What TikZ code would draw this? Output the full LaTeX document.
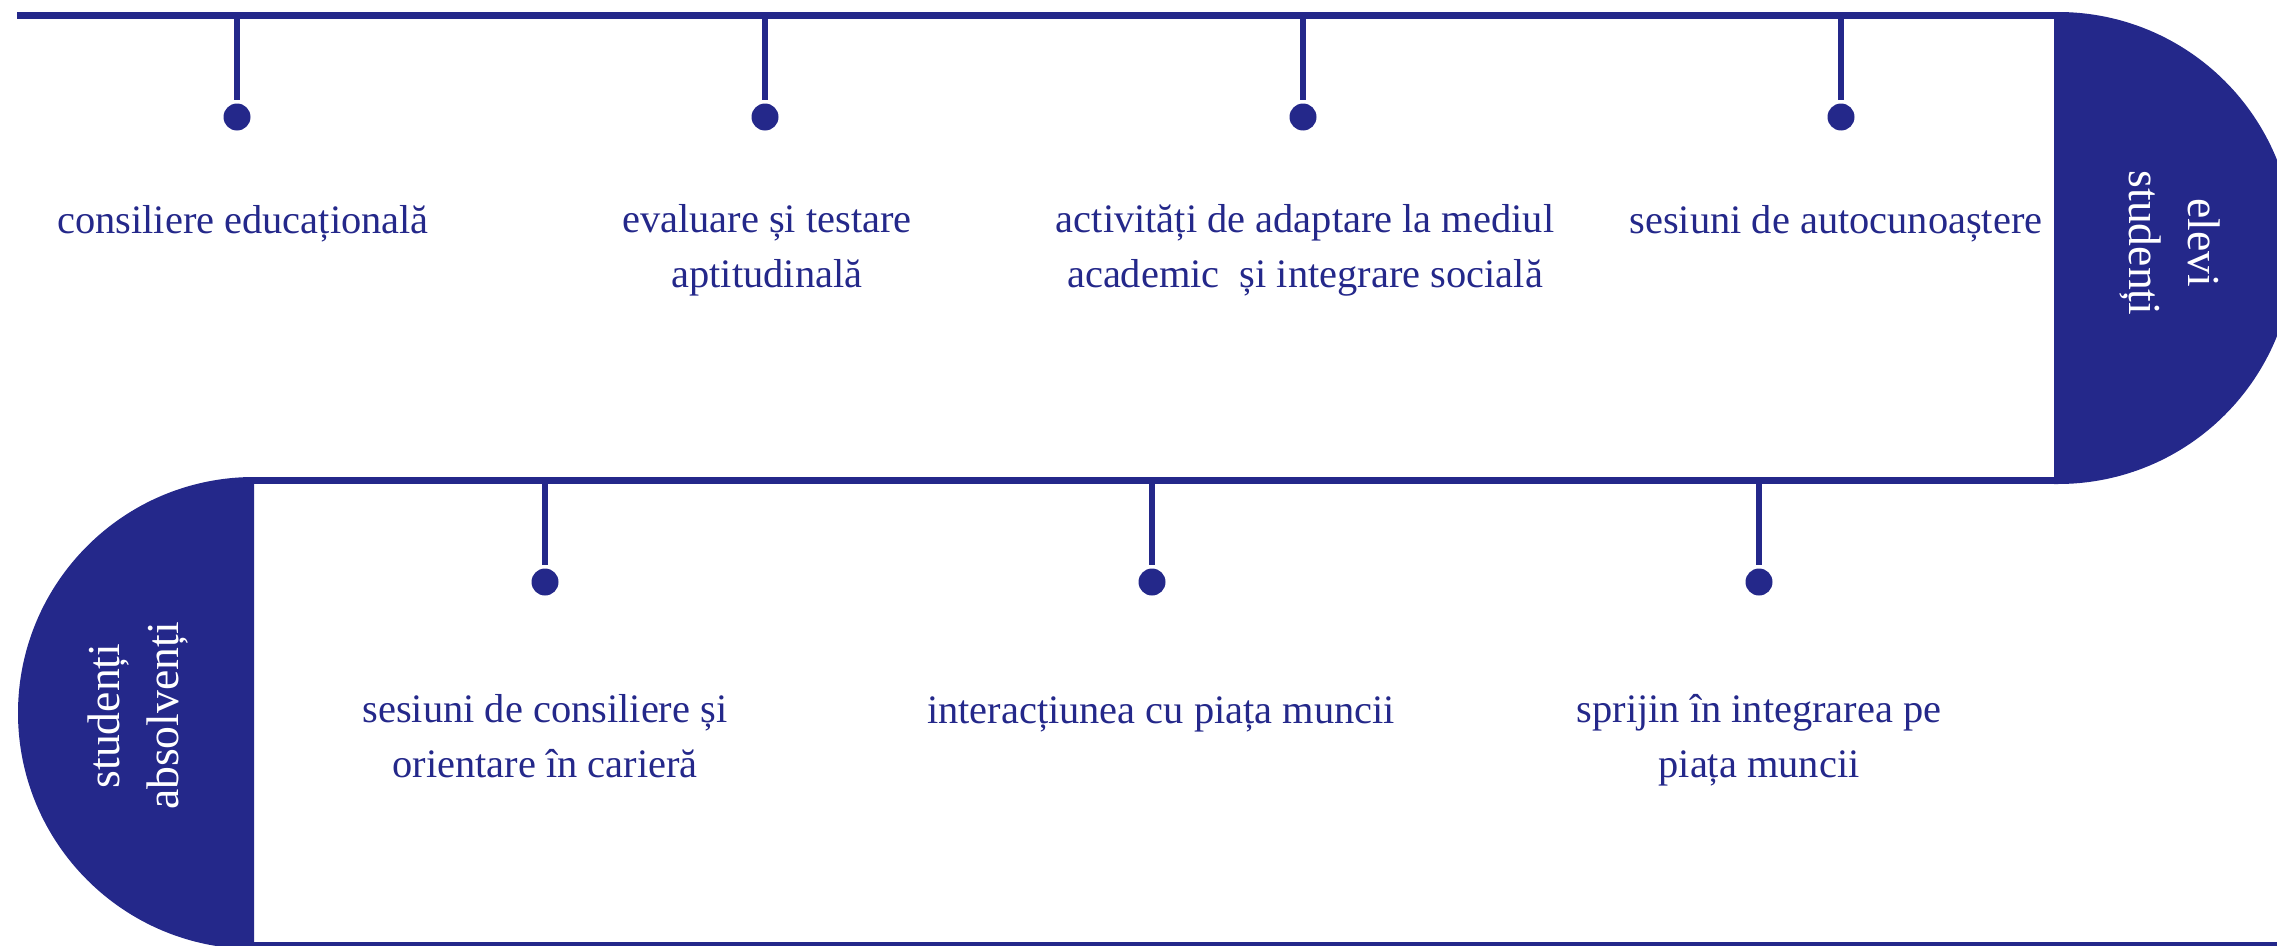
\documentclass[tikz,border=0pt]{standalone}
\usepackage{fontspec}
\setmainfont{Liberation Serif}
\definecolor{navy}{HTML}{24288A}
\tikzset{
  dot/.style={circle,fill=navy,inner sep=0pt,minimum size=2.7mm},
  item/.style={text=navy,align=center,font=\fontsize{11.5}{15.6}\selectfont,anchor=base,inner sep=0pt},
  sidelabel/.style={text=white,align=center,font=\fontsize{13}{17}\selectfont}
}

\begin{document}
\begin{tikzpicture}[x=0.1mm,y=-0.1mm,line width=0.7mm]
\useasboundingbox (0,0) rectangle (2277,946);
\clip (0,0) rectangle (2277,946);

% caps
\fill[navy] (2054,12) -- (2058,12) arc[start angle=-90,end angle=90,radius=236] -- (2054,484) -- cycle;
\fill[navy] (254,477) arc[start angle=-90,end angle=-270,radius=236] -- cycle;

% frame
\draw[navy] (17,15) -- (2058,15);
\draw[navy] (254,480.5) -- (2058,480.5);
\draw[navy] (254,945) -- (2277,945);

\node[sidelabel,rotate=-90] (c1) at (2170,243) {elevi\\studenți};
\node[sidelabel,rotate=90] (c2) at (138,716) {studenți\\absolvenți};

% stems
\coordinate (r1) at (237,15);
\coordinate (r2) at (765,15);
\coordinate (r3) at (1303,15);
\coordinate (r4) at (1841,15);
\coordinate (r5) at (545,480);
\coordinate (r6) at (1152,480);
\coordinate (r7) at (1759,480);

\node[dot] (d1) at (237,117) {};
\node[dot] (d2) at (765,117) {};
\node[dot] (d3) at (1303,117) {};
\node[dot] (d4) at (1841,117) {};
\node[dot] (d5) at (545,582) {};
\node[dot] (d6) at (1152,582) {};
\node[dot] (d7) at (1759,582) {};

\draw[navy,line width=0.65mm] (r1) -- (d1);
\draw[navy,line width=0.65mm] (r2) -- (d2);
\draw[navy,line width=0.65mm] (r3) -- (d3);
\draw[navy,line width=0.65mm] (r4) -- (d4);
\draw[navy,line width=0.65mm] (r5) -- (d5);
\draw[navy,line width=0.65mm] (r6) -- (d6);
\draw[navy,line width=0.65mm] (r7) -- (d7);

% labels (base = last line)
\node[item] (t1) at (243,233) {consiliere educațională};
\node[item] (t2) at (767,287) {evaluare și testare\\aptitudinală};
\node[item] (t3) at (1305,287) {activități de adaptare la mediul\\academic~ și integrare socială};
\node[item] (t4) at (1836,233) {sesiuni de autocunoaștere};
\node[item] (t5) at (545,777) {sesiuni de consiliere și\\orientare în carieră};
\node[item] (t6) at (1161,723) {interacțiunea cu piața muncii};
\node[item] (t7) at (1759,777) {sprijin în integrarea pe\\piața muncii};

\end{tikzpicture}
\end{document}
